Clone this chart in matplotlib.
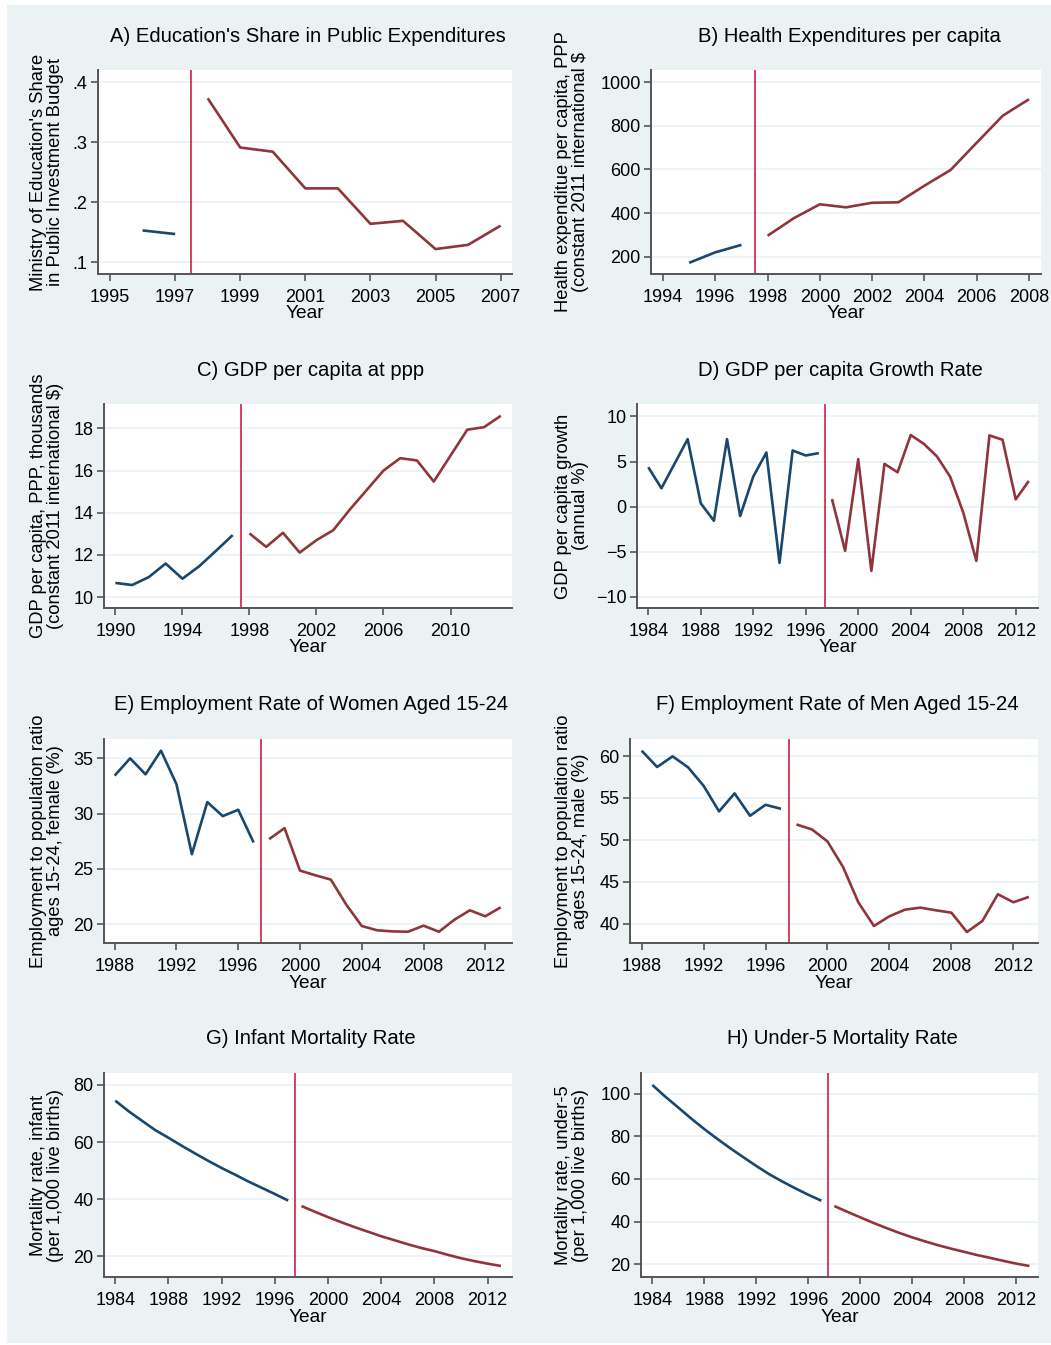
import matplotlib
matplotlib.use("Agg")
import matplotlib.pyplot as plt
from matplotlib.patches import Rectangle

plt.rcParams['font.family'] = ['Liberation Sans', 'DejaVu Sans']

BLUE = '#1A476F'
RED = '#90353B'
VLINE = '#D11E48'
BG = '#EAF2F3'
GRID = '#EAF2F3'
SPINE = '#555555'

# ---------------- data ----------------
# A) Education's share in public investment budget
a_years_pre = [1996, 1997]
a_vals_pre = [0.153, 0.147]
a_years_post = [1998, 1999, 2000, 2001, 2002, 2003, 2004, 2005, 2006, 2007]
a_vals_post = [0.373, 0.291, 0.284, 0.223, 0.223, 0.164, 0.169, 0.122, 0.129, 0.161]

# B) Health expenditure per capita
b_years_pre = [1995, 1996, 1997]
b_vals_pre = [172, 220, 254]
b_years_post = [1998, 1999, 2000, 2001, 2002, 2003, 2004, 2005, 2006, 2007, 2008]
b_vals_post = [296, 376, 440, 426, 447, 449, 525, 597, 722, 846, 921]

# C) GDP per capita PPP (thousands)
c_years_pre = [1990, 1991, 1992, 1993, 1994, 1995, 1996, 1997]
c_vals_pre = [10.67, 10.57, 10.95, 11.59, 10.87, 11.46, 12.19, 12.94]
c_years_post = list(range(1998, 2014))
c_vals_post = [13.02, 12.38, 13.05, 12.11, 12.70, 13.17, 14.16, 15.08, 16.00,
               16.59, 16.48, 15.48, 16.71, 17.94, 18.06, 18.60]

# D) GDP per capita growth (annual %)
d_years_pre = list(range(1984, 1998))
d_vals_pre = [4.37, 2.04, 4.75, 7.48, 0.37, -1.56, 7.48, -1.04, 3.33, 6.00,
              -6.22, 6.22, 5.67, 5.93]
d_years_post = list(range(1998, 2014))
d_vals_post = [0.85, -4.89, 5.26, -7.11, 4.74, 3.81, 7.93, 6.96, 5.56, 3.33,
               -0.63, -6.00, 7.89, 7.41, 0.81, 2.85]

# E) Employment rate, women 15-24
e_years_pre = list(range(1988, 1998))
e_vals_pre = [33.43, 35.00, 33.55, 35.69, 32.67, 26.32, 31.04, 29.77, 30.34, 27.38]
e_years_post = list(range(1998, 2014))
e_vals_post = [27.68, 28.68, 24.84, 24.41, 24.02, 21.75, 19.82, 19.43, 19.33,
               19.30, 19.85, 19.30, 20.39, 21.24, 20.70, 21.51]

# F) Employment rate, men 15-24
f_years_pre = list(range(1988, 1998))
f_vals_pre = [60.64, 58.69, 59.96, 58.65, 56.45, 53.39, 55.54, 52.87, 54.18, 53.70]
f_years_post = list(range(1998, 2014))
f_vals_post = [51.83, 51.24, 49.80, 46.77, 42.51, 39.72, 40.88, 41.67, 41.91,
               41.59, 41.31, 39.00, 40.32, 43.51, 42.55, 43.19]

# G) Infant mortality rate
g_years_pre = list(range(1984, 1998))
g_vals_pre = [74.5, 70.8, 67.5, 64.2, 61.5, 58.7, 56.0, 53.4, 50.9, 48.6,
              46.2, 44.0, 41.8, 39.5]
g_years_post = list(range(1998, 2014))
g_vals_post = [37.6, 35.6, 33.7, 31.9, 30.2, 28.6, 27.0, 25.6, 24.2, 22.9,
               21.8, 20.5, 19.3, 18.3, 17.4, 16.6]

# H) Under-5 mortality rate
h_years_pre = list(range(1984, 1998))
h_vals_pre = [104.1, 98.6, 93.5, 88.3, 83.4, 78.8, 74.4, 70.2, 66.1, 62.2,
              58.8, 55.6, 52.6, 49.8]
h_years_post = list(range(1998, 2014))
h_vals_post = [47.3, 44.6, 42.0, 39.4, 37.0, 34.7, 32.6, 30.7, 28.9, 27.3,
               25.8, 24.3, 23.0, 21.6, 20.3, 19.2]

break_year = 1997.5

titles = ["A) Education's Share in Public Expenditures",
          "B) Health Expenditures per capita",
          "C) GDP per capita at ppp",
          "D) GDP per capita Growth Rate",
          "E) Employment Rate of Women Aged 15-24",
          "F) Employment Rate of Men Aged 15-24",
          "G) Infant Mortality Rate",
          "H) Under-5 Mortality Rate"]

ylabels = ["Ministry of Education's Share\nin Public Investment Budget",
           "Health expenditue per capita, PPP\n(constant 2011 international $",
           "GDP per capita, PPP, thousands\n(constant 2011 international $)",
           "GDP per capita growth\n(annual %)",
           "Employment to population ratio\nages 15-24, female (%)",
           "Employment to population ratio\nages 15-24, male (%)",
           "Mortality rate, infant\n(per 1,000 live births)",
           "Mortality rate, under-5\n(per 1,000 live births)"]

xticks_list = [list(range(1995, 2008, 2)), list(range(1994, 2009, 2)),
               list(range(1990, 2011, 4)), list(range(1984, 2013, 4)),
               list(range(1988, 2013, 4)), list(range(1988, 2013, 4)),
               list(range(1984, 2013, 4)), list(range(1984, 2013, 4))]

yticks_list = [[0.1, 0.2, 0.3, 0.4], [200, 400, 600, 800, 1000],
               [10, 12, 14, 16, 18], [-10, -5, 0, 5, 10],
               [20, 25, 30, 35], [40, 45, 50, 55, 60],
               [20, 40, 60, 80], [20, 40, 60, 80, 100]]
ytick_labels_list = [['.1', '.2', '.3', '.4'], None, None, None, None, None, None, None]

xlims = [(1994.63, 2007.35), (1993.54, 2008.46), (1989.32, 2013.67), (1983.14, 2013.7),
         (1987.31, 2013.73), (1987.25, 2013.59), (1983.15, 2013.83), (1983.13, 2013.66)]
ylims = [(0.0805, 0.42), (120.7, 1055), (9.48, 19.16), (-11.22, 11.37),
         (18.28, 36.75), (37.69, 62.03), (12.73, 84.2), (14.04, 109.7)]

series = [(a_years_pre, a_vals_pre, a_years_post, a_vals_post),
          (b_years_pre, b_vals_pre, b_years_post, b_vals_post),
          (c_years_pre, c_vals_pre, c_years_post, c_vals_post),
          (d_years_pre, d_vals_pre, d_years_post, d_vals_post),
          (e_years_pre, e_vals_pre, e_years_post, e_vals_post),
          (f_years_pre, f_vals_pre, f_years_post, f_vals_post),
          (g_years_pre, g_vals_pre, g_years_post, g_vals_post),
          (h_years_pre, h_vals_pre, h_years_post, h_vals_post)]

# axes boxes in pixels (x0, x1, ytop, ybottom)
boxes = [(98, 512, 70, 274), (651, 1041, 70, 274),
         (104, 512, 404, 608), (637, 1038, 404, 608),
         (104, 512, 739, 943), (630, 1038, 739, 943),
         (104, 512, 1073, 1277), (641, 1038, 1073, 1277)]

W, H = 1051, 1345
fig = plt.figure(figsize=(W / 100, H / 100), dpi=100, facecolor='white')
fig.patches.append(Rectangle((7 / W, 2 / H), 1 - 7 / W, 1 - 7 / H,
                             transform=fig.transFigure, facecolor=BG,
                             edgecolor='none', zorder=-10))

for i in range(8):
    x0, x1, yt, yb = boxes[i]
    ax = fig.add_axes([x0 / W, 1 - yb / H, (x1 - x0) / W, (yb - yt) / H])
    ax.set_facecolor('white')
    yp, vp, yq, vq = series[i]
    ax.plot(yp, vp, color=BLUE, lw=1.9, solid_capstyle='butt', zorder=3)
    ax.plot(yq, vq, color=RED, lw=1.9, solid_capstyle='butt', zorder=3)
    ax.axvline(break_year, color=VLINE, lw=1.2, zorder=2)
    ax.set_xlim(*xlims[i])
    ax.set_ylim(*ylims[i])
    ax.set_xticks(xticks_list[i])
    ax.set_yticks(yticks_list[i])
    if ytick_labels_list[i] is not None:
        ax.set_yticklabels(ytick_labels_list[i])
    for t in yticks_list[i]:
        ax.axhline(t, color=GRID, lw=1.2, zorder=1)
    for s in ['top', 'right']:
        ax.spines[s].set_visible(False)
    for s in ['left', 'bottom']:
        ax.spines[s].set_color(SPINE)
        ax.spines[s].set_linewidth(1.4)
    ax.tick_params(axis='both', direction='out', length=5, width=1.2,
                   color=SPINE, labelsize=13, pad=2.5, labelcolor='black')
    ax.tick_params(axis='x', pad=5.5)
    # title
    cx = (x0 + x1) / 2 + 3
    fig.text(cx / W, 1 - (yt - 34) / H, titles[i], ha='center', va='center',
             fontsize=14.6, color='black')
    # x label
    fig.text(((x0 + x1) / 2) / W, 1 - (yb + 40) / H, 'Year', ha='center',
             va='center', fontsize=13.8, color='black')
    # y label
    lx = 47 if i % 2 == 0 else 572
    fig.text(lx / W, 1 - ((yt + yb) / 2) / H, ylabels[i], ha='center',
             va='center', rotation=90, fontsize=13.2, color='black',
             multialignment='center', linespacing=1.0)

fig.savefig('out.png', dpi=100, facecolor='white')
